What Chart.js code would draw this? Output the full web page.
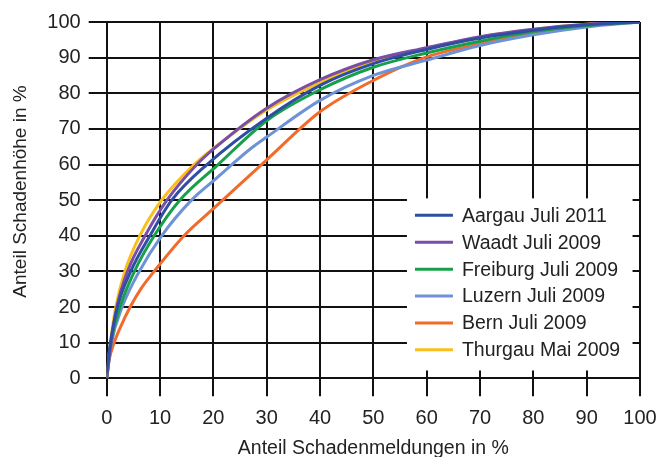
<!DOCTYPE html>
<html lang="de">

<head>
  <meta charset="UTF-8">
  <title>Anteil Schadenhöhe vs. Anteil Schadenmeldungen</title>
  <script src="https://cdn.jsdelivr.net/npm/chart.js"></script>
  <style>
    html, body {
      margin: 0;
      padding: 0;
      background: #fff;
    }
    #wrap {
      width: 658px;
      height: 457px;
    }
  </style>
</head>

<body>
  <div id="wrap"><canvas id="lorenz" width="658" height="457"></canvas></div>

  <script>
    // each curve: Anteil Schadenmeldungen (x, %) -> Anteil Schadenhöhe (y, %)
    const aargauX   = [0, 0.7, 2, 4.5, 8.1, 12.2, 18.8, 30, 40, 50, 60, 70, 80, 90, 100];
    const aargauY   = [1.5, 10, 20, 30, 40, 50, 60, 73, 82.2, 88.3, 92.3, 95.5, 97.7, 99.2, 100];

    const waadtX    = [0, 0.8, 1.9, 3.9, 7.2, 11.3, 16.9, 20, 30, 40, 50, 60, 70, 80, 90, 100];
    const waadtY    = [0, 10, 20, 30, 40, 50, 60, 64.3, 75.8, 83.8, 89.4, 92.8, 95.9, 98, 99.4, 100];

    const freiburgX = [0, 0.8, 2.5, 5.2, 8.9, 13.7, 20.9, 30, 40, 50, 60, 70, 80, 90, 100];
    const freiburgY = [0, 10, 20, 30, 40, 50, 60, 72.3, 81, 87.3, 91.3, 94.6, 97.3, 99, 100];

    const luzernX   = [0, 0.9, 2.9, 6.1, 10.3, 15.9, 20, 27.2, 30, 40, 50, 60, 70, 80, 90, 100];
    const luzernY   = [0, 10, 20, 30, 40, 50, 55.4, 64.7, 67.7, 78, 85, 89.3, 93.4, 96.4, 98.6, 100];

    const bernX     = [0, 0.5, 1.4, 2.5, 4.4, 6.5, 8.9, 14.5, 20, 30, 40, 50, 60, 70, 80, 90, 100];
    const bernY     = [0, 5.4, 10, 14.1, 20, 25.3, 30, 40, 47.6, 61.3, 74.8, 83.6, 90.2, 93.9, 96.8, 99, 100];

    const thurgauX  = [0, 0.7, 1.7, 3.4, 6.2, 10.3, 16.4, 20, 30, 40, 50, 60, 70, 80, 90, 100];
    const thurgauY  = [0, 10, 20, 30, 40, 50, 60, 64.5, 75.3, 83, 89, 92.6, 95.8, 97.9, 99.4, 100];

    const seriesNames = ['Aargau Juli 2011', 'Waadt Juli 2009', 'Freiburg Juli 2009',
      'Luzern Juli 2009', 'Bern Juli 2009', 'Thurgau Mai 2009'];
    const seriesX = [aargauX, waadtX, freiburgX, luzernX, bernX, thurgauX];
    const seriesY = [aargauY, waadtY, freiburgY, luzernY, bernY, thurgauY];
    const seriesColors = ['#2f4ea3', '#7a4ea6', '#17a04a', '#6d93d6', '#f26b2a', '#fbbf1b'];

    const xTicks = [0, 10, 20, 30, 40, 50, 60, 70, 80, 90, 100];
    const yTicks = [0, 10, 20, 30, 40, 50, 60, 70, 80, 90, 100];

    const xTitle = 'Anteil Schadenmeldungen in %';
    const yTitle = 'Anteil Schadenhöhe in %';

    const FONT = 'Liberation Sans, Arial, sans-serif';
    const TEXT = '#222';

    // white legend box inside the plot (lower right) plus both axis titles
    const boxLegend = {
      id: 'boxLegend',
      afterDatasetsDraw(chart) {
        const ctx = chart.ctx;
        const xs = chart.scales.x, ys = chart.scales.y;
        const left = xs.getPixelForValue(56.3);
        const right = xs.getPixelForValue(98.6);
        const top = ys.getPixelForValue(50.5);
        const bottom = ys.getPixelForValue(2.2);
        ctx.save();
        ctx.fillStyle = '#fff';
        ctx.fillRect(left, top, right - left, bottom - top);
        const rowH = 26.9;
        const y0 = top + 17;
        ctx.font = '19.5px ' + FONT;
        ctx.textBaseline = 'middle';
        ctx.textAlign = 'left';
        seriesNames.forEach((name, i) => {
          const y = y0 + i * rowH;
          ctx.strokeStyle = seriesColors[i];
          ctx.lineWidth = 3;
          ctx.beginPath();
          ctx.moveTo(left + 8, y);
          ctx.lineTo(left + 46, y);
          ctx.stroke();
          ctx.fillStyle = TEXT;
          ctx.fillText(name, left + 55, y + 1);
        });
        ctx.restore();
      },
      afterDraw(chart) {
        const ctx = chart.ctx;
        const area = chart.chartArea;
        ctx.save();
        ctx.fillStyle = TEXT;
        ctx.font = '19.5px ' + FONT;
        ctx.textAlign = 'center';
        ctx.textBaseline = 'alphabetic';
        ctx.fillText(xTitle, (area.left + area.right) / 2, 454);
        ctx.font = '19px ' + FONT;
        ctx.translate(26, 191.5);
        ctx.rotate(-Math.PI / 2);
        ctx.fillText(yTitle, 0, 0);
        ctx.restore();
      }
    };

    const ctx = document.getElementById('lorenz').getContext('2d');

    const lorenz = new Chart(ctx, {
      type: 'line',
      data: {
        datasets: seriesNames.map((name, i) => ({
          label: name,
          data: seriesX[i].map((x, j) => ({ x: x, y: seriesY[i][j] })),
          borderColor: seriesColors[i],
          backgroundColor: seriesColors[i],
          borderWidth: 3,
          pointRadius: 0,
          fill: false,
          cubicInterpolationMode: 'monotone'
        }))
      },
      options: {
        responsive: false,
        animation: false,
        layout: {
          padding: { left: 0, right: 0, top: 22, bottom: 0 }
        },
        scales: {
          x: {
            type: 'linear',
            min: 0,
            max: 100,
            afterBuildTicks: (scale) => { scale.ticks = xTicks.map(v => ({ value: v })); },
            afterFit: (scale) => {
              scale.height = 78.7;
              scale.paddingLeft = 0;
              scale.paddingRight = 18;
            },
            grid: { color: '#111', lineWidth: 2, tickLength: 18, drawTicks: true },
            border: { display: false },
            ticks: {
              color: TEXT,
              padding: 10,
              font: { family: FONT, size: 20 },
              maxRotation: 0
            }
          },
          y: {
            type: 'linear',
            min: 0,
            max: 100,
            afterBuildTicks: (scale) => { scale.ticks = yTicks.map(v => ({ value: v })); },
            afterFit: (scale) => { scale.width = 106.7; },
            grid: { color: '#111', lineWidth: 2, tickLength: 18, drawTicks: true },
            border: { display: false },
            ticks: {
              color: TEXT,
              padding: 8,
              font: { family: FONT, size: 20 }
            }
          }
        },
        plugins: {
          legend: { display: false },
          tooltip: { enabled: false }
        }
      },
      plugins: [boxLegend]
    });
  </script>
</body>

</html>
